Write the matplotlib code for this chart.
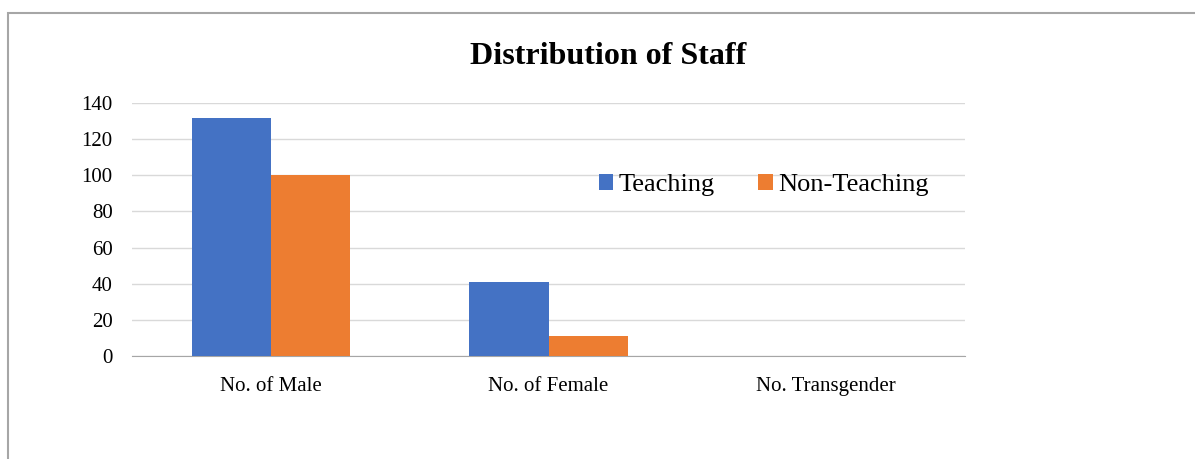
import numpy as np
import matplotlib
matplotlib.use("Agg")
import matplotlib.pyplot as plt
from matplotlib.patches import Rectangle

categories = ["No. of Male", "No. of Female", "No. Transgender"]
teaching = [132, 41, 0]
non_teaching = [100, 11, 0]
yticks = [0, 20, 40, 60, 80, 100, 120, 140]

plt.rcParams['font.family'] = ['Liberation Serif', 'DejaVu Serif']

fig = plt.figure(figsize=(11.95, 4.59), dpi=100)
ax = fig.add_axes([0.1105, 0.225, 0.697, 0.55])

x = np.arange(len(categories))
w = 0.285
ax.bar(x - w / 2, teaching, w, color="#4472c4", label="Teaching", zorder=3)
ax.bar(x + w / 2, non_teaching, w, color="#ed7d31", label="Non-Teaching", zorder=3)

ax.set_xlim(-0.5, 2.5)
ax.set_ylim(0, 140)
ax.set_yticks(yticks)
ax.set_xticks(x)
ax.set_xticklabels(categories, fontsize=15)
ax.tick_params(axis='y', labelsize=15, length=0, pad=14)
ax.tick_params(axis='x', length=0, pad=15)
ax.grid(axis='y', color="#d9d9d9", lw=1, zorder=0)
for s in ["top", "right", "left"]:
    ax.spines[s].set_visible(False)
ax.spines["bottom"].set_color("#a6a6a6")

fig.text(0.509, 1 - 57 / 459, "Distribution of Staff", ha="center", va="center",
         fontsize=23, fontweight="bold")

fig.legend(loc="center left", bbox_to_anchor=(0.501, 1 - 185 / 459), ncol=2,
           frameon=False, fontsize=19, handlelength=0.55, handleheight=0.55,
           handletextpad=0.2, columnspacing=1.65, borderaxespad=0, borderpad=0)

# outer chart border
fig.patches.append(Rectangle((8 / 1195, -0.1), 1.2, 1.1 - 13 / 459,
                             transform=fig.transFigure, fill=False,
                             edgecolor="#a6a6a6", lw=1.5))

fig.savefig("out.png", dpi=100)
